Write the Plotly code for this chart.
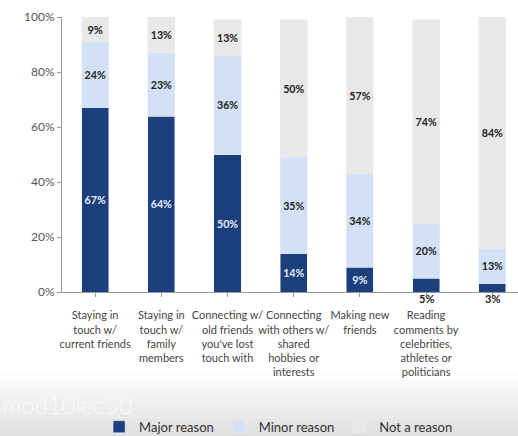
import plotly.graph_objects as go

categories = [
    "Staying in<br>touch w/<br>current friends",
    "Staying in<br>touch w/<br>family<br>members",
    "Connecting w/<br>old friends<br>you've lost<br>touch with",
    "Connecting<br>with others w/<br>shared<br>hobbies or<br>interests",
    "Making new<br>friends",
    "Reading<br>comments by<br>celebrities,<br>athletes or<br>politicians",
    "Finding<br>potential<br>romantic or<br>dating<br>partners",
]
major = [67, 64, 50, 14, 9, 5, 3]
minor = [24, 23, 36, 35, 34, 20, 13]
not_reason = [9, 13, 13, 50, 57, 74, 84]
y_ticks = [0, 20, 40, 60, 80, 100]
y_tick_labels = ["0%", "20%", "40%", "60%", "80%", "100%"]

FONT = "Lato, Open Sans, sans-serif"
x = list(range(len(categories)))

def labels(vals, limit=8):
    return [f"{v}%" if v >= limit else "" for v in vals]

fig = go.Figure()
fig.add_trace(go.Bar(x=x, y=major, name="Major reason", marker_color="#1c3f7e",
                     text=labels(major), textposition="inside", insidetextanchor="middle",
                     textangle=0, textfont=dict(color="#e8eef8", size=11, family=FONT, weight="bold")))
fig.add_trace(go.Bar(x=x, y=minor, name="Minor reason", marker_color="#d2e1f5",
                     text=labels(minor), textposition="inside", insidetextanchor="middle",
                     textangle=0, textfont=dict(color="#222222", size=11, family=FONT, weight="bold")))
fig.add_trace(go.Bar(x=x, y=not_reason, name="Not a reason", marker_color="#e8e8e8",
                     text=labels(not_reason), textposition="inside", insidetextanchor="middle",
                     textangle=0, textfont=dict(color="#222222", size=11, family=FONT, weight="bold")))

annotations = []
for i, v in enumerate(major):
    if v < 8:
        annotations.append(dict(x=i, y=0, xref="x", yref="y", text=f"{v}%", showarrow=False,
                                yanchor="top", yshift=1, borderpad=0,
                                font=dict(color="#222222", size=11, family=FONT, weight="bold")))
annotations.append(dict(x=-0.135, y=-0.41, xref="paper", yref="paper", text="mod10lec50",
                        showarrow=False, xanchor="left", yanchor="middle",
                        font=dict(color="#fafafa", size=24, family=FONT, weight=300)))

# bottom gradient band
shapes = []
n = 24
top_px, bottom_px, plot_bottom, plot_h = 372, 436, 292, 275
for k in range(n):
    y0 = top_px + (bottom_px - top_px) * k / n
    y1 = top_px + (bottom_px - top_px) * (k + 1) / n
    g = int(255 - (255 - 222) * (k + 0.5) / n)
    shapes.append(dict(type="rect", xref="paper", yref="paper", layer="below",
                       x0=-62 / 456, x1=1.0,
                       y0=(plot_bottom - y1) / plot_h, y1=(plot_bottom - y0) / plot_h,
                       fillcolor=f"rgb({g},{g},{g})", line=dict(width=0)))

fig.update_layout(
    width=518, height=436,
    margin=dict(l=62, r=0, t=17, b=144, autoexpand=False),
    barmode="stack", bargap=0.59,
    plot_bgcolor="white", paper_bgcolor="white",
    font=dict(family=FONT, color="#444444"),
    showlegend=True,
    legend=dict(orientation="h", x=0.475, xanchor="center", y=-0.49, yanchor="middle",
                font=dict(size=13, color="#333333", family=FONT), traceorder="normal",
                bgcolor="rgba(0,0,0,0)", itemwidth=30),
    annotations=annotations,
    shapes=shapes,
)
fig.update_xaxes(range=[-0.5, -0.5 + 456 / 66.2], tickvals=x, ticktext=categories,
                 tickangle=0, automargin=False,
                 showline=True, linecolor="#999999", linewidth=1,
                 ticks="outside", tickson="boundaries", ticklen=4, tickcolor="#999999",
                 tickfont=dict(size=11, color="#444444", family=FONT),
                 ticklabelstandoff=9, showgrid=False)
fig.update_yaxes(range=[0, 100], tickvals=y_ticks, ticktext=y_tick_labels, automargin=False,
                 showline=True, linecolor="#999999", linewidth=1,
                 ticks="outside", ticklen=4, tickcolor="#999999",
                 tickfont=dict(size=12, color="#555555", family=FONT),
                 showgrid=False, zeroline=False)

fig.write_html("out.html", config={"displayModeBar": False},
               post_script="document.body.style.margin='0';document.body.style.overflow='hidden';")
